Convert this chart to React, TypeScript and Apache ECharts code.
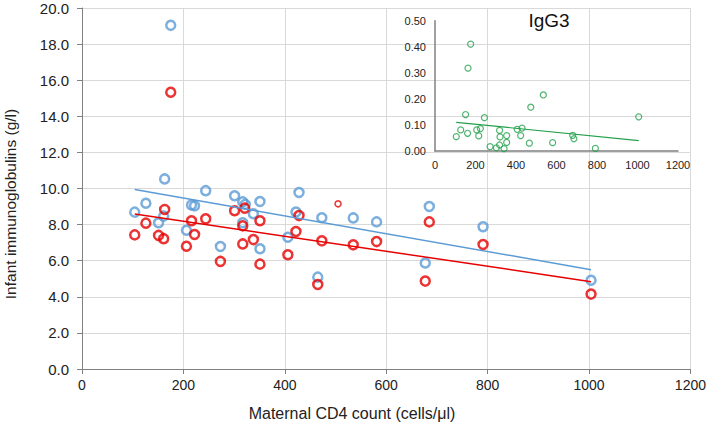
import React, { useEffect, useRef } from "react";
import * as echarts from "echarts";

const blueX = [104, 126, 151, 161, 163, 175, 206, 216, 222, 244, 273, 301, 317, 322, 317, 338, 351, 351, 406, 422, 428, 465, 473, 535, 581, 677, 685, 791, 1004];
const blueY = [8.69, 9.18, 8.1, 8.47, 10.53, 19.04, 7.69, 9.09, 9.04, 9.88, 6.79, 9.6, 9.26, 9.12, 8.1, 8.6, 9.28, 6.66, 7.3, 8.7, 9.78, 5.09, 8.38, 8.37, 8.15, 5.87, 9.0, 7.88, 4.92];

const redX = [104, 126, 151, 161, 163, 175, 206, 216, 222, 244, 273, 301, 321, 317, 317, 338, 351, 351, 406, 422, 428, 465, 473, 535, 581, 677, 685, 791, 1004];
const redY = [7.43, 8.08, 7.4, 7.22, 8.84, 15.33, 6.8, 8.21, 7.45, 8.32, 5.96, 8.77, 8.91, 7.93, 6.93, 7.17, 8.21, 5.81, 6.33, 7.62, 8.5, 4.68, 7.1, 6.88, 7.06, 4.87, 8.15, 6.9, 4.15];

const redSmallX = [505];
const redSmallY = [9.15];

const blueTrendX = [104, 1004];
const blueTrendY = [9.95, 5.5];
const redTrendX = [104, 1004];
const redTrendY = [8.59, 4.84];

const greenX = [176, 163, 151, 244, 105, 127, 161, 206, 224, 216, 272, 303, 319, 319, 321, 341, 354, 354, 406, 430, 423, 466, 473, 535, 581, 680, 686, 792, 1006];
const greenY = [0.41, 0.318, 0.14, 0.128, 0.055, 0.081, 0.068, 0.081, 0.086, 0.058, 0.017, 0.012, 0.023, 0.079, 0.054, 0.009, 0.059, 0.033, 0.083, 0.088, 0.059, 0.03, 0.168, 0.215, 0.032, 0.06, 0.047, 0.01, 0.131];
const greenTrendX = [105, 1006];
const greenTrendY = [0.11, 0.04];

const mainYTicks = { min: 0, max: 20, interval: 2 };
const mainXTicks = { min: 0, max: 1200, interval: 200 };
const insetYTicks = { min: 0, max: 0.5, interval: 0.1 };

const xTitle = "Maternal CD4 count (cells/μl)";
const yTitle = "Infant immunoglobulins (g/l)";
const insetTitle = "IgG3";

const BLUE = "#5B9BD5";
const RED = "#E60000";
const GREEN = "#22A04B";
const FONT = "Liberation Sans, Arial, sans-serif";

const zip = (xs: number[], ys: number[]) => xs.map((x, i) => [x, ys[i]]);

export default function App() {
  const ref = useRef<HTMLDivElement>(null);
  useEffect(() => {
    if (!ref.current) return;
    const chart = echarts.init(ref.current, null, { renderer: "svg" });
    const option: any = {
      animation: false,
      backgroundColor: "#fff",
      grid: [
        { left: 82, top: 8, width: 610, height: 361, containLabel: false },
        { left: 435, top: 20.7, width: 243, height: 130.3, containLabel: false },
      ],
      xAxis: [
        {
          gridIndex: 0,
          type: "value",
          ...mainXTicks,
          axisLine: { show: true, onZero: false, lineStyle: { color: "#808080", width: 1 } },
          axisTick: { show: true, length: 5, lineStyle: { color: "#808080" } },
          axisLabel: { color: "#222", fontSize: 14, fontFamily: FONT, margin: 9, formatter: (v: number) => String(v) },
          splitLine: { show: true, lineStyle: { color: "#D9D9D9", width: 1 } },
        },
        {
          gridIndex: 1,
          type: "value",
          ...mainXTicks,
          axisLine: { show: true, onZero: false, lineStyle: { color: "#808080", width: 1.5 } },
          axisTick: { show: false },
          axisLabel: { color: "#222", fontSize: 11, fontFamily: FONT, margin: 8, formatter: (v: number) => String(v) },
          splitLine: { show: false },
        },
      ],
      yAxis: [
        {
          gridIndex: 0,
          type: "value",
          ...mainYTicks,
          axisLine: { show: true, onZero: false, lineStyle: { color: "#808080", width: 1 } },
          axisTick: { show: true, length: 5, lineStyle: { color: "#808080" } },
          axisLabel: {
            color: "#222",
            fontSize: 15,
            fontFamily: FONT,
            margin: 13,
            formatter: (v: number) => v.toFixed(1),
          },
          splitLine: { show: true, lineStyle: { color: "#D9D9D9", width: 1 } },
        },
        {
          gridIndex: 1,
          type: "value",
          ...insetYTicks,
          axisLine: { show: true, onZero: false, lineStyle: { color: "#808080", width: 1.5 } },
          axisTick: { show: false },
          axisLabel: {
            color: "#222",
            fontSize: 11,
            fontFamily: FONT,
            margin: 9,
            formatter: (v: number) => v.toFixed(2),
          },
          splitLine: { show: false },
        },
      ],
      series: [
        {
          type: "scatter",
          xAxisIndex: 0,
          yAxisIndex: 0,
          data: zip(blueX, blueY),
          symbol: "circle",
          symbolSize: 9,
          itemStyle: { color: "rgba(0,0,0,0)", borderColor: BLUE, borderWidth: 2.5 },
          z: 3,
        },
        {
          type: "scatter",
          xAxisIndex: 0,
          yAxisIndex: 0,
          data: zip(redX, redY),
          symbol: "circle",
          symbolSize: 9,
          itemStyle: { color: "rgba(0,0,0,0)", borderColor: RED, borderWidth: 2.5 },
          z: 4,
        },
        {
          type: "scatter",
          xAxisIndex: 0,
          yAxisIndex: 0,
          data: zip(redSmallX, redSmallY),
          symbol: "circle",
          symbolSize: 6,
          itemStyle: { color: "rgba(0,0,0,0)", borderColor: RED, borderWidth: 1.5 },
          z: 4,
        },
        {
          type: "line",
          xAxisIndex: 0,
          yAxisIndex: 0,
          data: zip(blueTrendX, blueTrendY),
          showSymbol: false,
          symbol: "none",
          lineStyle: { color: BLUE, width: 1.5 },
          z: 5,
        },
        {
          type: "line",
          xAxisIndex: 0,
          yAxisIndex: 0,
          data: zip(redTrendX, redTrendY),
          showSymbol: false,
          symbol: "none",
          lineStyle: { color: RED, width: 1.5 },
          z: 5,
        },
        {
          type: "scatter",
          xAxisIndex: 1,
          yAxisIndex: 1,
          data: zip(greenX, greenY),
          symbol: "circle",
          symbolSize: 6,
          itemStyle: { color: "rgba(0,0,0,0)", borderColor: GREEN, borderWidth: 1.2 },
          z: 6,
        },
        {
          type: "line",
          xAxisIndex: 1,
          yAxisIndex: 1,
          data: zip(greenTrendX, greenTrendY),
          showSymbol: false,
          symbol: "none",
          lineStyle: { color: GREEN, width: 1.2 },
          z: 6,
        },
      ],
      graphic: [
        {
          type: "text",
          x: 352,
          y: 413,
          style: {
            text: xTitle,
            font: `16px ${FONT}`,
            fill: "#222",
            textAlign: "center",
            textVerticalAlign: "middle",
          },
        },
        {
          type: "text",
          x: 10,
          y: 204,
          rotation: Math.PI / 2,
          style: {
            text: yTitle,
            font: `15.5px ${FONT}`,
            fill: "#222",
            textAlign: "center",
            textVerticalAlign: "middle",
          },
        },
        {
          type: "text",
          x: 549,
          y: 20,
          style: {
            text: insetTitle,
            font: `19px ${FONT}`,
            fill: "#111",
            textAlign: "center",
            textVerticalAlign: "middle",
          },
        },
      ],
    };
    chart.setOption(option);
    return () => chart.dispose();
  }, []);
  return (
    <div
      ref={ref}
      style={{ position: "absolute", left: 0, top: 0, width: 709, height: 428 }}
    />
  );
}
